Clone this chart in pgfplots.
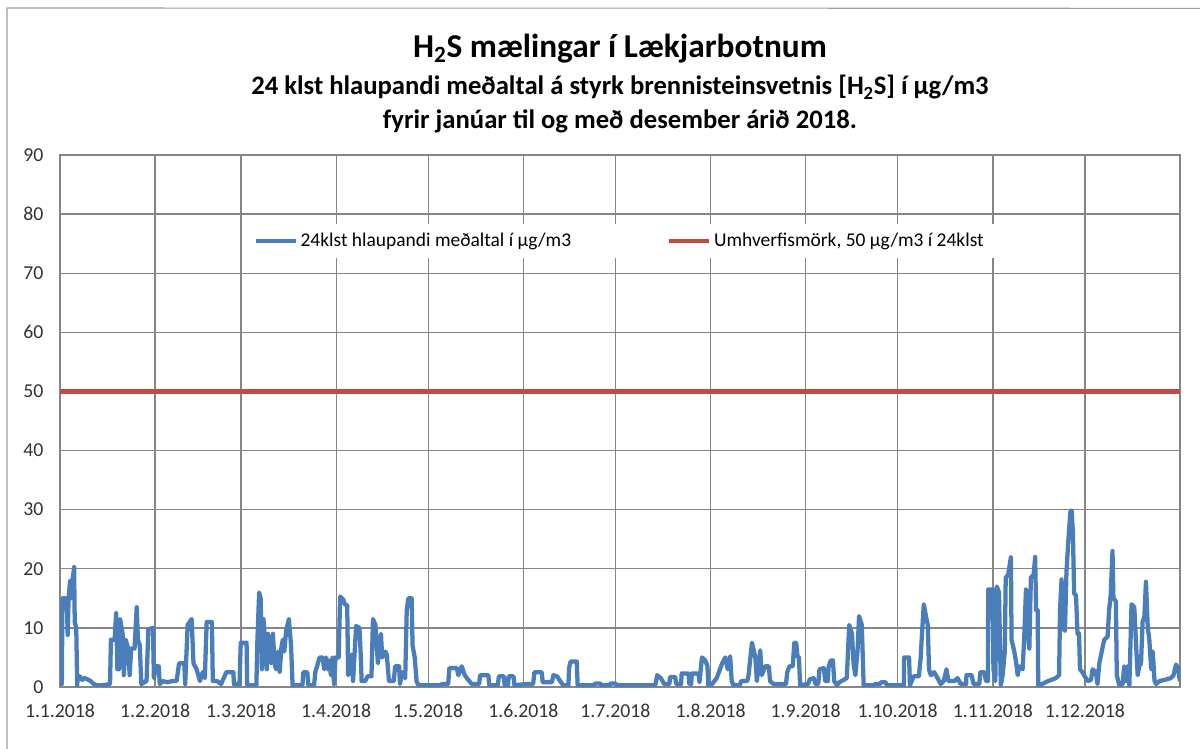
\documentclass[border=0pt]{standalone}
\usepackage{pgfplots}
\pgfplotsset{compat=1.18}
\usepackage{pgfplotstable}
\usepackage{fontspec}
\setmainfont{Carlito}
\definecolor{lineblue}{RGB}{74,126,187}
\definecolor{linered}{RGB}{190,75,72}
\definecolor{gridgray}{RGB}{134,134,134}
\definecolor{labelgray}{RGB}{50,50,50}

\pgfplotstableread{
day val
0 0.5
0.6 0.5
0.8 15
1.5 15
2.2 15
2.5 8.8
2.8 15
3.3 18
3.7 15
4.1 18
4.6 20.3
4.8 11
5.3 10
5.6 0.3
5.8 1.8
6.5 1.8
7.2 1.2
8 1.5
9 1.3
10 1
11 0.5
12 0.3
14 0.3
16.3 0.5
16.6 8
17.8 8
18.3 12.5
18.7 3
19.2 3
19.6 11.5
20.4 9
20.8 2
21.4 8
22.2 6.5
22.7 2
23.2 6.5
24.3 6.5
25 13.5
25.4 8
26 7
26.5 0.5
28.2 1
28.8 9.8
30.3 10
30.6 1.5
31.3 3.5
32.2 3.5
32.5 0.5
33.5 1
35 0.8
36.5 1
38 1
38.8 4
40.5 4
40.8 0.5
41.6 10.5
42.9 11.5
43.5 4
44.5 3
45.6 1
46.5 2.5
47.2 1.5
47.8 11
49.5 11
49.8 1
51.2 1
52.5 0.5
54.2 2.5
56.5 2.5
56.7 0.5
58.5 0.5
58.9 7.5
60.8 7.5
61 0.3
64 0.3
64.3 7.5
64.9 16
65.4 15
65.8 3
66.3 11.5
66.8 8
67.4 3
67.8 9
68.3 5.5
68.8 4
69.4 9
69.9 4
70.4 3
71 6
71.6 2.5
72.1 6.5
72.6 8
73.1 6
73.7 9.5
74.6 11.5
75.3 7
75.8 0.3
79 0.3
79.3 2.5
80.6 2.5
80.9 0.3
82.8 0.3
83.2 2.5
84.6 5
85.6 5
86.1 3
86.7 5
87.2 3
87.7 4.5
88.3 2
88.8 5
89.3 0.5
89.8 5
90.8 5
91.3 15.3
92.3 14.8
92.8 14
93.6 13.8
93.9 2
94.5 3
95 5.5
95.5 1
96.5 10.3
97.6 10
98 5.5
98.3 1
99.5 1
100.2 1.8
101.5 1.8
102 11.5
102.8 10.5
103.6 4
104 6
104.6 9
105 5
106 6
106.5 5.5
107.2 1
108.8 1
109.2 3.5
110.5 3.5
110.8 0.5
111.5 2.5
112.5 1.5
113 13
113.5 15
114.6 15
114.9 7
115.6 5
116.2 1
116.8 0.3
124 0.3
124.5 0.5
126.5 0.5
126.9 3.2
129.3 3.2
129.8 2
130.9 3.5
131.9 2
132.9 1.3
134.2 0.5
136.6 0.5
136.9 2
139.6 2
139.9 0.3
142.7 0.3
143 1.8
144.6 1.8
144.9 0.3
146 0.3
146.2 1.8
147.8 1.8
148.1 0.3
152 0.5
154.2 0.5
154.6 2.5
157 2.5
157.3 0.8
160.3 0.8
160.8 2
162 1.8
163 1
164 0.3
165.7 0.3
165.9 3.2
166.4 4.3
168.4 4.3
168.7 0.3
174 0.3
174.5 0.6
176 0.6
176.4 0.3
179 0.3
179.5 0.6
181 0.6
181.5 0.3
194 0.3
194.6 2
195.8 1.5
196.9 0.5
198.6 0.5
198.8 1.7
200.5 1.7
200.8 0.5
202.4 0.5
202.6 2.3
204.8 2.3
205.1 0.5
205.7 0.5
205.9 2.3
208.1 2.3
208.4 0.8
209.2 5
210.3 4.5
211 3.5
211.3 0.3
212.5 0.5
214 1.5
215.8 4
216.8 5
217.6 3
218.4 5.2
218.9 1
219.5 0.3
221.5 0.3
222 1
224 1
224.4 2
225.5 7.5
226.6 5
227.1 1
228.2 6.2
228.7 2
229.8 3.5
231 3.5
231.4 1
232.5 0.5
236.6 0.5
237 2.5
237.7 3.5
238.8 3.5
239.3 7.5
239.9 7.5
240.4 5
240.8 5
241.2 0.3
243.8 0.5
244.3 1.3
245.6 1.5
246.2 0.5
247.1 0.5
247.5 3
248.9 3.2
249.4 1
250.2 1
250.5 3.5
251.2 4.5
251.9 4.5
252.3 1
253.2 0.3
254 0.8
256.4 1.5
257.2 10.5
258.1 9
258.6 4
259.2 2
259.9 6
260.4 12
261.3 10.5
261.9 0.3
265 0.3
265.8 0.5
267.3 0.5
267.5 0.8
269 0.8
269.5 0.3
275 0.3
275.1 5
276.7 5
277 0.3
278.2 1.8
279.9 1.8
280.5 5
280.8 8
281.5 14
282.2 12
282.8 10.5
283.2 3
283.8 2
284.9 2.5
286 1.5
287 0.5
288 1
288.9 3
289.5 1
291.5 1
292.5 1.5
293.5 0.5
295.3 0.5
295.4 2
297.1 2
297.7 0.5
299.6 0.5
299.9 2.5
301.2 2.5
301.8 1
302.4 1
302.5 16.5
303.9 16.5
304.2 3
304.8 1
305.3 17
306 16
306.6 0.3
307.2 2
307.9 6
308.2 18.5
309 19
309.9 22
310.1 8
311 6
311.5 4.5
312.1 2
312.6 3.5
313.7 3
314.2 8
314.8 16.5
315.3 10
315.9 6.5
316.4 18.5
317.3 19
317.8 22
318.1 13
318.6 13
318.8 0.3
320 0.5
322 1
324.5 1.5
325.6 2
325.9 13
326.4 18.2
326.8 10
327.5 9.5
328 19.5
328.6 24.8
329.3 29.8
329.7 29.8
330.1 26
330.5 15.8
331.1 15.5
331.6 9
332.1 9
332.4 3
333.2 2.5
334.3 1.5
334.9 1
336 1.2
336.5 3
337.6 2.5
338.1 0.5
338.7 4
339.7 6.5
340.3 8
341.4 8.5
341.9 13
342.4 15.5
343 23
343.3 15
344.1 14.5
344.4 2
345.2 0.3
346.3 0.5
346.8 3.5
347.4 1
347.9 3.5
348.5 0.3
349.2 14
350.1 13.5
350.6 8
351.2 2
351.7 3.5
352.3 4
352.8 11
353.4 12
353.9 17.8
354.5 10
355 8
355.6 3
356.1 6
356.7 1
357.2 0.5
358.3 1
360 1.2
362 1.5
362.9 2
363.7 3.8
364.5 3
364.8 1.5
365 1
}\hstable

\begin{document}
\begin{tikzpicture}
\begin{axis}[
  scale only axis,
  width=840pt, height=399pt,
  xmin=0, xmax=365, ymin=0, ymax=90,
  xtick={0,31,59,90,120,151,181,212,243,273,304,334},
  xticklabels={1.1.2018,1.2.2018,1.3.2018,1.4.2018,1.5.2018,1.6.2018,1.7.2018,1.8.2018,1.9.2018,1.10.2018,1.11.2018,1.12.2018},
  ytick={0,10,...,90},
  grid=major,
  major grid style={color=gridgray, line width=1pt},
  axis line style={gridgray, line width=1pt},
  major tick length=0pt,
  /pgf/number format/assume math mode=true,
  tick label style={font=\fontsize{14.8}{17}\selectfont, text=labelgray},
  yticklabel style={xshift=-9pt},
  xticklabel style={yshift=-9pt},
  legend columns=2,
  legend style={at={(0.5,0.8385)}, anchor=center, draw=none, fill=white,
    font=\fontsize{14.6}{17}\selectfont, inner xsep=9pt, inner ysep=5pt,
    /tikz/every even column/.append style={column sep=70pt},
    /tikz/every odd column/.append style={column sep=0pt}},
  legend cell align=left,
  legend image code/.code={\draw[#1] (0pt,0pt) -- (30pt,0pt);},
]
\addplot[lineblue, line width=3.2pt, line join=round] table[x=day, y=val] {\hstable};
\addlegendentry{24klst hlaupandi meðaltal í µg/m3}
\addplot[linered, line width=3.2pt] coordinates {(0,50) (365,50)};
\addlegendentry{Umhverfismörk, 50 µg/m3 í 24klst}
\coordinate (ll) at (rel axis cs:0,0);
\coordinate (ur) at (rel axis cs:1,1);
\coordinate (tc) at (rel axis cs:0.5,1);
\end{axis}
\node[anchor=base, font=\bfseries\fontsize{25}{29}\selectfont] at ([yshift=73pt]tc) {H\textsubscript{2}S mælingar í Lækjarbotnum};
\node[anchor=base, font=\bfseries\fontsize{20}{24}\selectfont] at ([yshift=45pt]tc) {24 klst hlaupandi meðaltal á styrk brennisteinsvetnis [H\textsubscript{2}S] í µg/m3};
\node[anchor=base, font=\bfseries\fontsize{20}{24}\selectfont] at ([yshift=20pt]tc) {fyrir janúar til og með desember árið 2018.};
\path[use as bounding box] ([xshift=-45pt,yshift=-46.5pt]ll) rectangle ([xshift=15pt,yshift=116.25pt]ur);
\draw[gridgray!80, line width=0.8pt] ([xshift=-39.75pt,yshift=-60pt]ll) -- ([xshift=-39.75pt,yshift=509.25pt]ll) -- ([xshift=40pt,yshift=110pt]ur);
\end{tikzpicture}
\end{document}
